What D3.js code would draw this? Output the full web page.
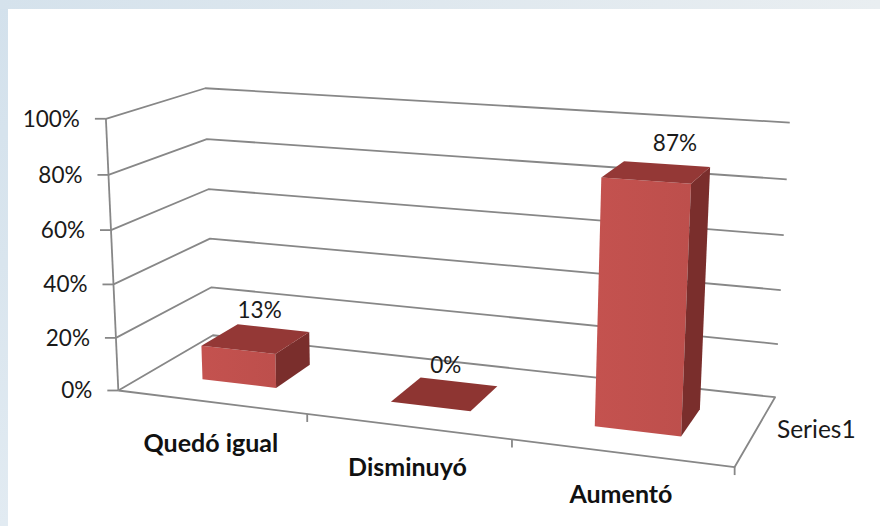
<!DOCTYPE html>
<html>
<head>
<meta charset="utf-8">
<script src="https://cdn.jsdelivr.net/npm/d3@7"></script>
<style>
  html, body { margin: 0; padding: 0; background: #fff; }
  svg { display: block; }
</style>
</head>
<body>
<svg id="chart" width="880" height="526"></svg>
<script>
// ---- data ----
const categories = ["Quedó igual", "Disminuyó", "Aumentó"];
const values = [0.13, 0.00, 0.87];
const valueTicks = [0, 0.2, 0.4, 0.6, 0.8, 1.0];
const seriesName = "Series1";

// ---- 3D frame calibration: world [category units, value, depth] -> screen px ----
const frameAnchors = [
  [[0, 0, 0], [118, 390]], [[0, 0, 1], [213, 336]], [[3, 0, 1], [775, 397]], [[3, 0, 0], [735, 467]],
  [[0, 1, 0], [107, 118]], [[0, 1, 1], [203, 88]], [[3, 1, 1], [790, 123]],
  [[1, 0, 0], [306, 414]], [[2, 0, 0], [512, 440]],
  [[0, 0.2, 0], [116, 337]], [[0, 0.4, 0], [113, 285]], [[0, 0.6, 0], [111, 231]], [[0, 0.8, 0], [109, 175]],
  [[0, 0.2, 1], [212, 288]], [[0, 0.4, 1], [211, 238]], [[0, 0.6, 1], [209, 189]], [[0, 0.8, 1], [207, 139]],
  [[3, 0.2, 1], [778, 343]], [[3, 0.4, 1], [781, 290]], [[3, 0.6, 1], [783, 235]], [[3, 0.8, 1], [787, 180]]
];

// least-squares projective camera (DLT) from the frame anchors
function solveCamera(anchors) {
  const n = 11;
  const M = Array.from({ length: n }, () => new Array(n).fill(0));
  const r = new Array(n).fill(0);
  function add(row, b) {
    for (let i = 0; i < n; i++) {
      r[i] += row[i] * b;
      for (let j = 0; j < n; j++) M[i][j] += row[i] * row[j];
    }
  }
  anchors.forEach(([[X, Y, Z], [u, v]]) => {
    add([X, Y, Z, 1, 0, 0, 0, 0, -u * X, -u * Y, -u * Z], u);
    add([0, 0, 0, 0, X, Y, Z, 1, -v * X, -v * Y, -v * Z], v);
  });
  for (let c = 0; c < n; c++) {
    let p = c;
    for (let k = c + 1; k < n; k++) if (Math.abs(M[k][c]) > Math.abs(M[p][c])) p = k;
    [M[c], M[p]] = [M[p], M[c]]; [r[c], r[p]] = [r[p], r[c]];
    for (let k = c + 1; k < n; k++) {
      const f = M[k][c] / M[c][c];
      for (let j = c; j < n; j++) M[k][j] -= f * M[c][j];
      r[k] -= f * r[c];
    }
  }
  const x = new Array(n).fill(0);
  for (let c = n - 1; c >= 0; c--) {
    let s = r[c];
    for (let j = c + 1; j < n; j++) s -= M[c][j] * x[j];
    x[c] = s / M[c][c];
  }
  return x;
}
const P = solveCamera(frameAnchors);
function proj(X, Y, Z) {
  const w = P[8] * X + P[9] * Y + P[10] * Z + 1;
  return [(P[0] * X + P[1] * Y + P[2] * Z + P[3]) / w, (P[4] * X + P[5] * Y + P[6] * Z + P[7]) / w];
}

// ---- scales ----
const slot = d3.scaleBand().domain(categories).range([0, 3]);
const xBand = d3.scaleBand().domain(categories).range([0, 3]).paddingInner(0.6).paddingOuter(0.3);
const yVal = d3.scaleLinear().domain([0, 1]).range([0, 1]);
const zFront = 0.3, zBack = 0.7;
const pct = d3.format(".0%");

const svg = d3.select("#chart");
const line = d3.line();

// ---- background frame ----
const defs = svg.append("defs");
const topGrad = defs.append("linearGradient").attr("id", "topStrip").attr("x1", 0).attr("x2", 1).attr("y1", 0).attr("y2", 0);
topGrad.append("stop").attr("offset", 0).attr("stop-color", "#d5e2ec");
topGrad.append("stop").attr("offset", 1).attr("stop-color", "#e9eef1");
const leftGrad = defs.append("linearGradient").attr("id", "leftStrip").attr("x1", 0).attr("x2", 0).attr("y1", 0).attr("y2", 1);
leftGrad.append("stop").attr("offset", 0).attr("stop-color", "#d3e1ec");
leftGrad.append("stop").attr("offset", 0.5).attr("stop-color", "#d9e5ee");
leftGrad.append("stop").attr("offset", 1).attr("stop-color", "#e2ebf2");
const faceGrad = defs.append("linearGradient").attr("id", "frontFace").attr("x1", 0).attr("x2", 1).attr("y1", 0).attr("y2", 0);
faceGrad.append("stop").attr("offset", 0).attr("stop-color", "#c4524f");
faceGrad.append("stop").attr("offset", 1).attr("stop-color", "#bd4f4c");

svg.append("rect").attr("width", 880).attr("height", 526).attr("fill", "url(#leftStrip)");
svg.append("rect").attr("width", 880).attr("height", 9).attr("fill", "url(#topStrip)");
svg.append("rect").attr("x", 8).attr("y", 9).attr("width", 872).attr("height", 517).attr("fill", "#ffffff");

// ---- walls and floor grid ----
const grid = svg.append("g").attr("fill", "none").attr("stroke", "#878787").attr("stroke-width", 1.8)
  .attr("stroke-linejoin", "round");
valueTicks.forEach(t => {
  const y = yVal(t);
  const pts = [proj(0, y, 0), proj(0, y, 1), proj(3, y, 1)];
  if (t === 0) pts.push(proj(3, 0, 0), proj(0, 0, 0));
  grid.append("path").attr("d", line(pts));
});
// value axis
grid.append("path").attr("d", line([proj(0, 0, 0), proj(0, 1, 0)]));
// value ticks
valueTicks.forEach(t => {
  const [x, y] = proj(0, yVal(t), 0);
  grid.append("path").attr("d", line([[x - 11, y], [x, y]]));
});
// category ticks on the front edge
d3.range(1, categories.length + 1).forEach(k => {
  const [x, y] = proj(k, 0, 0);
  grid.append("path").attr("d", line([[x, y], [x, y + 8]]));
});

// ---- value labels ----
const font = "Lato, 'Open Sans', sans-serif";
svg.append("g").selectAll("text").data(valueTicks).join("text")
  .attr("x", t => proj(0, yVal(t), 0)[0] - 26)
  .attr("y", t => proj(0, yVal(t), 0)[1] + 8)
  .attr("text-anchor", "end")
  .attr("font-family", font).attr("font-size", 22.5).attr("fill", "#1a1a1a")
  .text(pct);

// ---- bars ----
const bars = svg.append("g");
categories.forEach((c, i) => {
  const x0 = xBand(c), x1 = x0 + xBand.bandwidth(), h = yVal(values[i]);
  const g = bars.append("g");
  if (h > 0) {
    g.append("path").attr("fill", "url(#frontFace)")
      .attr("d", line([proj(x0, 0, zFront), proj(x1, 0, zFront), proj(x1, h, zFront), proj(x0, h, zFront)]) + "Z");
    g.append("path").attr("fill", "#7a2e2c")
      .attr("d", line([proj(x1, 0, zFront), proj(x1, 0, zBack), proj(x1, h, zBack), proj(x1, h, zFront)]) + "Z");
    g.append("path").attr("fill", "#943836")
      .attr("d", line([proj(x0, h, zFront), proj(x1, h, zFront), proj(x1, h, zBack), proj(x0, h, zBack)]) + "Z");
  } else {
    g.append("path").attr("fill", "#8e3532")
      .attr("d", line([proj(x0, 0, zFront), proj(x1, 0, zFront), proj(x1, 0, zBack), proj(x0, 0, zBack)]) + "Z");
  }
});

// ---- data labels ----
svg.append("g").selectAll("text").data(categories).join("text")
  .attr("x", (c, i) => proj(xBand(c) + xBand.bandwidth() / 2, yVal(values[i]), 0.5)[0] + 1 + 20 * values[i])
  .attr("y", (c, i) => proj(xBand(c) + xBand.bandwidth() / 2, yVal(values[i]), 0.5)[1] - 21)
  .attr("text-anchor", "middle")
  .attr("font-family", font).attr("font-size", 22.5).attr("fill", "#1a1a1a")
  .text((c, i) => pct(values[i]));

// ---- category labels ----
svg.append("g").selectAll("text").data(categories).join("text")
  .attr("x", c => proj(slot(c) + slot.bandwidth() / 2, 0, 0)[0])
  .attr("y", c => proj(slot(c) + slot.bandwidth() / 2, 0, 0)[1] + 50)
  .attr("text-anchor", "middle")
  .attr("font-family", font).attr("font-weight", "bold").attr("font-size", 25).attr("fill", "#111")
  .text(c => c);

// ---- series (depth) axis label ----
const sm = proj(3, 0, 0.5);
svg.append("text")
  .attr("x", sm[0] + 21).attr("y", sm[1] + 8)
  .attr("font-family", font).attr("font-size", 24.5).attr("fill", "#1a1a1a")
  .text(seriesName);
</script>
</body>
</html>
